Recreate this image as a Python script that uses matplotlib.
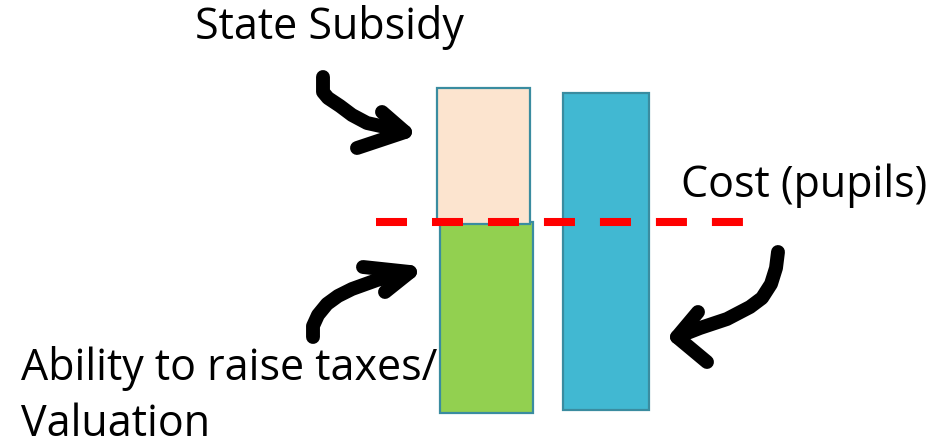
import matplotlib
matplotlib.use("Agg")
import matplotlib.pyplot as plt
import numpy as np

# bar values (in pixels above the baseline of the drawing)
ability = 191      # ability to raise taxes / valuation
subsidy = 136      # state subsidy stacked on top
cost_bottom = 3
cost = 317         # cost (pupils)

labels = ["State Subsidy", "Cost (pupils)", "Ability to raise taxes/\nValuation"]

# hand drawn arrows, points in picture pixels (x, y from top)
arrow_subsidy = [(323, 77), (323, 92), (328, 98), (340, 106), (352, 115), (367, 123), (385, 127), (405, 132)]
arrow_subsidy_head = [(382, 112), (405, 132), (357, 148)]
arrow_ability = [(313, 337), (313, 326), (318, 315), (327, 304), (338, 296), (352, 289), (377, 280), (410, 272)]
arrow_ability_head = [(363, 267), (410, 272), (385, 292)]
arrow_cost = [(778, 252), (776, 268), (771, 284), (762, 298), (750, 307), (727, 319), (700, 328), (677, 337)]
arrow_cost_head = [(698, 312), (677, 337), (707, 362)]

BASE = 413  # pixel row of the baseline


def to_data(pts):
    pts = np.array(pts, dtype=float)
    return pts[:, 0], BASE - pts[:, 1]


fig = plt.figure(figsize=(9.52, 4.46), dpi=100)
ax = fig.add_axes([0, 0, 1, 1])
ax.set_xlim(0, 952)
ax.set_ylim(BASE - 446, BASE)
ax.axis("off")

edge = "#3A8CA0"
ax.bar(486.5, ability, width=93, color="#92D050", edgecolor=edge, linewidth=1.6, zorder=2)
ax.bar(483.5, subsidy, bottom=ability - 2, width=93, color="#FCE4CF", edgecolor=edge, linewidth=1.6, zorder=2)
ax.bar(606, cost, bottom=cost_bottom, width=86, color="#41B8D2", edgecolor=edge, linewidth=1.6, zorder=2)

# red dashed line at the level of the ability to raise taxes
ax.plot([376, 743], [ability, ability], color="#FF0000", linewidth=5.8,
        dashes=(3.85, 3.1), solid_capstyle="butt", dash_capstyle="butt", zorder=3)

for path in [arrow_subsidy, arrow_subsidy_head, arrow_ability, arrow_ability_head,
             arrow_cost, arrow_cost_head]:
    xs, ys = to_data(path)
    ax.plot(xs, ys, color="black", linewidth=10, solid_capstyle="round",
            solid_joinstyle="round", zorder=4)

font = dict(family="Open Sans", fontsize=31, color="black", va="baseline", ha="left")
ax.text(195, BASE - 39, labels[0], **font)
ax.text(681, BASE - 197, labels[1], **font)
ax.text(21, BASE - 380, labels[2].split("\n")[0], **font)
ax.text(21, BASE - 436, labels[2].split("\n")[1], **font)

fig.savefig("out.png", dpi=100)
